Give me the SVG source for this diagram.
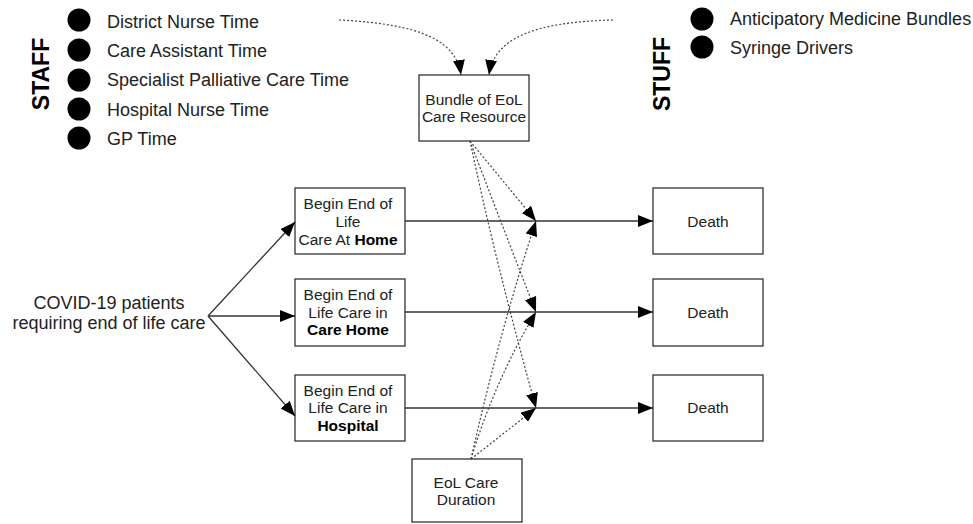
<svg xmlns="http://www.w3.org/2000/svg" width="973" height="524" viewBox="0 0 973 524">
<defs>
<marker id="ah" markerUnits="userSpaceOnUse" markerWidth="16" markerHeight="12" refX="15" refY="6" orient="auto">
<path d="M0,0 L15,6 L0,12 Z" fill="#000"/>
</marker>
<style>
text{font-family:"Liberation Sans",Arial,sans-serif;fill:#222}
.box{fill:#fff;stroke:#333;stroke-width:1.3}
.bt{font-size:15.5px;text-anchor:middle}
.lt{font-size:18px}
.big{font-size:23px;font-weight:bold;text-anchor:middle;fill:#000}
.solid{fill:none;stroke:#333;stroke-width:1.3;marker-end:url(#ah)}
.dot{fill:none;stroke:#444;stroke-width:1.2;stroke-dasharray:2,2;marker-end:url(#ah)}
.b{font-weight:bold;fill:#000}
</style>
</defs>
<rect width="973" height="524" fill="#fff"/>

<g id="staff">
<text class="big" transform="translate(49,74) rotate(-90)">STAFF</text>
<circle cx="79" cy="20" r="11.5" fill="#000"/>
<circle cx="79" cy="50" r="11.5" fill="#000"/>
<circle cx="79" cy="80" r="11.5" fill="#000"/>
<circle cx="79" cy="109" r="11.5" fill="#000"/>
<circle cx="79" cy="138" r="11.5" fill="#000"/>
<text class="lt" x="107" y="28">District Nurse Time</text>
<text class="lt" x="107" y="57">Care Assistant Time</text>
<text class="lt" x="107" y="86">Specialist Palliative Care Time</text>
<text class="lt" x="107" y="116">Hospital Nurse Time</text>
<text class="lt" x="107" y="145">GP Time</text>
</g>

<g id="stuff">
<text class="big" transform="translate(670,74) rotate(-90)">STUFF</text>
<circle cx="702" cy="19" r="11.5" fill="#000"/>
<circle cx="702" cy="47" r="11.5" fill="#000"/>
<text class="lt" x="730" y="25">Anticipatory Medicine Bundles</text>
<text class="lt" x="730" y="54">Syringe Drivers</text>
</g>

<g id="bundle">
<rect class="box" x="419" y="75" width="110" height="66"/>
<text class="bt" x="474" y="105">Bundle of EoL</text>
<text class="bt" x="474" y="122">Care Resource</text>
</g>

<g id="covid">
<text class="lt" x="109" y="309" text-anchor="middle">COVID-19 patients</text>
<text class="lt" x="109" y="329" text-anchor="middle">requiring end of life care</text>
</g>

<g id="home">
<rect class="box" x="295" y="188" width="110" height="66"/>
<text class="bt" x="348" y="209">Begin End of</text>
<text class="bt" x="348" y="227">Life</text>
<text class="bt" x="348" y="245">Care At <tspan class="b">Home</tspan></text>
</g>

<g id="carehome">
<rect class="box" x="295" y="279" width="110" height="67"/>
<text class="bt" x="348" y="300">Begin End of</text>
<text class="bt" x="348" y="318">Life Care in</text>
<text class="bt b" x="348" y="335">Care Home</text>
</g>

<g id="hospital">
<rect class="box" x="295" y="375" width="110" height="66"/>
<text class="bt" x="348" y="396">Begin End of</text>
<text class="bt" x="348" y="413">Life Care in</text>
<text class="bt b" x="348" y="431">Hospital</text>
</g>

<g id="death1">
<rect class="box" x="653" y="188" width="110" height="66"/>
<text class="bt" x="708" y="227">Death</text>
</g>
<g id="death2">
<rect class="box" x="653" y="279" width="110" height="67"/>
<text class="bt" x="708" y="318">Death</text>
</g>
<g id="death3">
<rect class="box" x="653" y="375" width="110" height="66"/>
<text class="bt" x="708" y="413">Death</text>
</g>

<g id="duration">
<rect class="box" x="412" y="459" width="110" height="63"/>
<text class="bt" x="466" y="488">EoL Care</text>
<text class="bt" x="466" y="505">Duration</text>
</g>

<g id="connectors">
<path class="solid" d="M208,316 L295,222"/>
<path class="solid" d="M208,316 L295,316"/>
<path class="solid" d="M208,316 L295,416"/>
<path class="solid" d="M405,221 L653,221"/>
<path class="solid" d="M405,312 L653,312"/>
<path class="solid" d="M405,408 L653,408"/>
<path class="dot" d="M339,20 C420,24 456,40 461,75"/>
<path class="dot" d="M613,20 C530,22 494,40 489,75"/>
<path class="dot" d="M470,141 L536,221"/>
<path class="dot" d="M470,141 Q500,220 536,312"/>
<path class="dot" d="M470,141 Q495,260 536,408"/>
<path class="dot" d="M471,459 L536,408"/>
<path class="dot" d="M471,459 Q495,380 536,312"/>
<path class="dot" d="M471,459 Q500,330 536,221"/>
</g>
</svg>
